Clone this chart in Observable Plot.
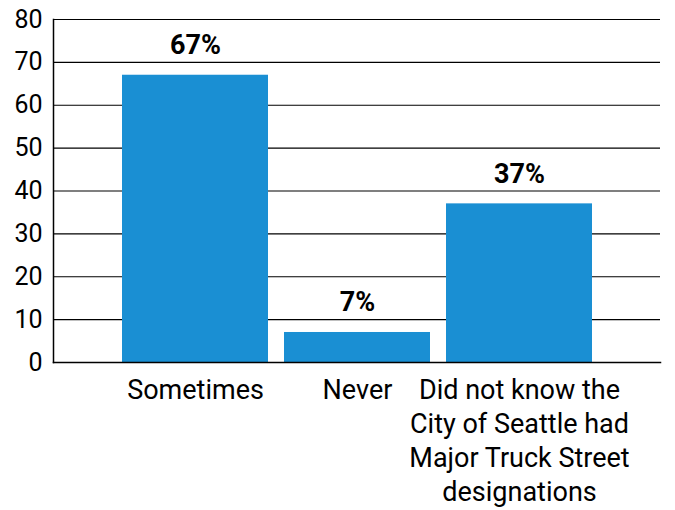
<!DOCTYPE html>
<html>
<head>
<meta charset="utf-8">
<script src="https://cdn.jsdelivr.net/npm/d3@7"></script>
<script src="https://cdn.jsdelivr.net/npm/@observablehq/plot@0.6"></script>
<style>
  html, body { margin: 0; padding: 0; background: #fff; }
  svg { display: block; }
</style>
</head>
<body>
<div id="chart"></div>
<script>
const categories = ["Sometimes", "Never", "Did not know the City of Seattle had Major Truck Street designations"];
const tickLabels = ["Sometimes", "Never", "Did not know the\nCity of Seattle had\nMajor Truck Street\ndesignations"];
const values = [67, 7, 37];
const yTicks = [0, 10, 20, 30, 40, 50, 60, 70, 80];

const data = categories.map((c, i) => ({cat: c, value: values[i], label: tickLabels[i]}));
const font = "Roboto, 'DejaVu Sans', sans-serif";

const chart = Plot.plot({
  width: 675,
  height: 510,
  marginLeft: 53,
  marginRight: 15,
  marginTop: 19,
  marginBottom: 148,
  style: {fontFamily: font, background: "#fff", color: "#000"},
  x: {domain: categories, range: [113, 600.5], paddingInner: 0.1, paddingOuter: 0.05, axis: null},
  y: {domain: [0, 80], axis: null},
  marks: [
    Plot.ruleY(yTicks, {stroke: "#000", strokeWidth: 1.2}),
    Plot.barY(data, {x: "cat", y: "value", fill: "#1a8fd3"}),
    Plot.frame({anchor: "left", stroke: "#000", strokeWidth: 1.5}),
    Plot.frame({anchor: "bottom", stroke: "#000", strokeWidth: 1.5}),
    Plot.axisY({ticks: yTicks, label: null, tickSize: 0, tickPadding: 11, fontSize: 25, tickFormat: d => d, fill: "#000", fontFamily: font}),
    Plot.text(data, {x: "cat", y: "value", text: d => d.value + "%", dy: -30, fontSize: 27, fontWeight: "bold", fill: "#000", fontFamily: font}),
    Plot.text(data, {x: "cat", frameAnchor: "bottom", text: "label", dy: 12, lineAnchor: "top", lineHeight: 1.26, fontSize: 27, fill: "#000", fontFamily: font})
  ]
});
document.getElementById("chart").appendChild(chart);
</script>
</body>
</html>
